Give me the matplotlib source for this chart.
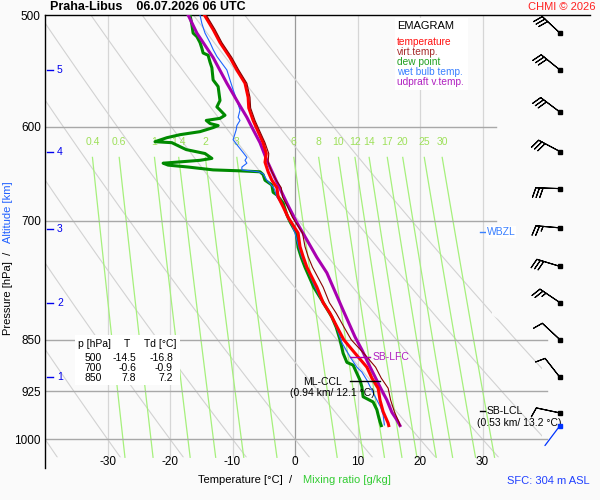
import numpy as np
import matplotlib
matplotlib.use('Agg')
import matplotlib.pyplot as plt
import matplotlib.transforms as mtransforms
from matplotlib.patches import Rectangle, Polygon
from matplotlib.ticker import NullLocator

plt.rcParams['font.family'] = ['Liberation Sans', 'DejaVu Sans']

# ---------------- data ----------------
title = "Praha-Libus    06.07.2026 06 UTC"

p_temp = [500, 512, 523, 536, 547, 559, 572, 582, 594, 605, 616, 627, 636, 646, 655, 663, 673,
          684, 696, 705, 714, 730, 742, 755, 780, 800, 814, 832, 850, 871, 889, 905, 920, 938,
          956, 974, 978]
temp = [-14.5, -13.1, -12.0, -10.4, -9.3, -8.0, -7.5, -7.4, -6.7, -5.9, -5.1, -4.6, -4.8, -4.3,
        -3.7, -2.9, -2.7, -1.9, -1.1, -0.3, 0.5, 0.8, 1.3, 1.9, 3.5, 4.5, 5.6, 6.7, 7.8, 9.8,
        11.5, 12.3, 13.3, 13.6, 14.1, 14.9, 15.0]
virt_temp = [-14.2, -12.8, -11.7, -10.1, -9.0, -7.7, -7.2, -7.1, -6.4, -5.6, -4.8, -4.2, -4.3,
             -3.7, -3.0, -2.2, -2.0, -1.2, -0.4, 0.4, 1.2, 1.6, 2.1, 2.8, 4.5, 5.5, 6.6, 7.8,
             9.0, 11.2, 12.9, 13.8, 14.9, 15.3, 15.9, 16.7, 16.8]

p_dew = [500, 508, 515, 518, 523, 528, 532, 534, 540, 545, 556, 562, 575, 581, 584, 589, 592,
         594, 597, 599, 601, 605, 608, 611, 615, 616, 620, 623, 627, 632, 634, 637, 639, 641,
         644, 645, 646, 649, 655, 660, 668, 671, 680, 693, 701, 714, 731, 743, 755, 780, 797,
         819, 833, 850, 869, 882, 886, 908, 918, 933, 941, 953, 961, 972, 978]
dew = [-16.8, -16.5, -16.3, -15.7, -15.2, -14.9, -14.7, -13.9, -13.6, -13.3, -13.1, -12.3,
       -12.0, -12.5, -12.0, -11.2, -12.0, -14.2, -13.6, -12.3, -13.1, -15.2, -18.4, -20.5,
       -22.4, -19.7, -18.4, -17.4, -14.4, -13.3, -15.2, -21.1, -20.3, -17.1, -13.1, -8.8,
       -5.6, -5.1, -4.8, -3.7, -3.5, -2.9, -1.9, -1.3, -0.8, 0.2, 0.5, 1.0, 1.6, 3.0, 4.3,
       5.9, 6.6, 7.2, 7.7, 8.3, 9.3, 10.4, 10.7, 10.9, 12.5, 13.1, 13.3, 13.6, 13.8]

p_wet = [500, 507, 515, 523, 529, 535, 541, 547, 556, 565, 575, 584, 591, 594, 599, 603, 613,
         618, 626, 631, 634, 637, 641, 644, 646, 648, 655, 663, 673, 684, 696, 705, 714, 731,
         743, 755, 780, 800, 819, 837, 854, 874, 889, 896, 908, 923, 938, 949, 961, 977]
wet = [-15.2, -14.9, -14.4, -13.6, -13.1, -12.5, -11.7, -10.9, -10.4, -9.9, -9.3, -8.8, -9.1,
       -8.8, -9.3, -9.4, -9.9, -9.3, -8.3, -7.7, -8.0, -7.7, -8.5, -8.5, -5.9, -5.1, -4.5,
       -3.4, -2.9, -1.9, -1.2, -0.5, 0.0, 0.6, 1.1, 1.8, 3.2, 4.4, 5.9, 6.8, 7.5, 8.8, 9.9,
       10.7, 11.5, 12.3, 13.1, 13.7, 14.1, 14.3]

p_parcel = [500, 515, 536, 559, 577, 591, 603, 616, 634, 657, 680, 702, 722, 743, 762, 810,
            846, 864, 883, 903, 918, 938, 957, 969, 978]
parcel = [-17.1, -15.7, -13.1, -10.9, -9.1, -7.7, -6.7, -5.6, -4.5, -2.9, -1.3, 0.3, 1.9,
          3.5, 5.1, 7.7, 9.6, 10.7, 11.7, 12.8, 13.6, 14.7, 15.5, 16.3, 16.8]

# wind barbs (every 0.5 km), direction in degrees, speed in kt
wind_p = [515, 547, 586, 625, 664, 708, 754, 800, 850, 904, 958]
wind_dir = [313, 309, 307, 298, 272, 275, 287, 304, 313, 322, 282]
wind_kt = [30, 30, 30, 30, 30, 25, 30, 25, 10, 10, 10]
sfc_p, sfc_dir = 978, 217

# altitude marks
alt_km = [1, 2, 3, 4, 5]
alt_p = [904, 800, 709, 625, 547]

p_ticks = [500, 600, 700, 850, 925, 1000]
t_ticks = [-30, -20, -10, 0, 10, 20, 30]
mix_ratios = [0.4, 0.6, 1, 1.4, 2, 3, 6, 8, 10, 12, 14, 17, 20, 25, 30]
mix_labels = ["0.4", "0.6", "1", "1.4", "2", "3", "6", "8", "10", "12", "14", "17", "20", "25", "30"]

tab_p = [500, 700, 850]
tab_T = [-14.5, -0.6, 7.8]
tab_Td = [-16.8, -0.9, 7.2]

lfc_p = 874
ccl_p, ccl_text = 910, "(0.94 km/ 12.1 °C)"
lcl_p, lcl_text = 955, "(0.53 km/ 13.2 °C)"
wbzl_p = 713

# ---------------- figure ----------------
W, H = 600, 500
BG = '#fafafa'
fig = plt.figure(figsize=(6, 5), dpi=100, facecolor=BG)

def fx(px):
    return px / W

def fy(py):
    return 1 - py / H

AX_L, AX_R, AX_T, AX_B = 45, 590, 15, 468
PX_PER_DEG = 6.25
PX_PER_LN = 612.0
ax = fig.add_axes([fx(AX_L), fy(AX_B), (AX_R - AX_L) / W, (AX_B - AX_T) / H])
ax.set_facecolor(BG)
T_MIN = -40.0
T_MAX = T_MIN + (AX_R - AX_L) / PX_PER_DEG
P_TOP = 500.0
P_BOT = P_TOP * np.exp((AX_B - AX_T) / PX_PER_LN)
ax.set_yscale('log')
ax.set_xlim(T_MIN, T_MAX)
ax.set_ylim(P_BOT, P_TOP)

def px2T(x):
    return (x - 295) / PX_PER_DEG

def py2p(y):
    return P_TOP * np.exp((y - AX_T) / PX_PER_LN)

for s in ['right', 'bottom']:
    ax.spines[s].set_visible(False)
for s in ['left', 'top']:
    ax.spines[s].set_color('black')
    ax.spines[s].set_linewidth(1.0)

ax.yaxis.set_minor_locator(NullLocator())
ax.set_yticks(p_ticks)
ax.set_yticklabels([str(p) for p in p_ticks])
ax.tick_params(axis='y', length=0, pad=3, labelsize=8.5)
ax.set_xticks([])

P_GRID_BOT = 1030

# clip region for background diagrams
clip_pts = [(T_MIN, P_TOP), (px2T(492), P_TOP), (px2T(492), py2p(315)), (px2T(500), py2p(320)),
            (px2T(542), py2p(360)), (px2T(542), P_GRID_BOT), (T_MIN, P_GRID_BOT)]
clip_poly = Polygon(clip_pts, closed=True, transform=ax.transData, facecolor='none', edgecolor='none')
ax.add_patch(clip_poly)

# isotherms
for t in t_ticks:
    ax.plot([t, t], [P_TOP, P_GRID_BOT], color='#999999' if t == 0 else '#d6d6d6', lw=0.9, zorder=1)

# dry adiabats
pp = np.linspace(P_TOP, P_GRID_BOT, 200)
for t1000 in range(-60, 60, 10):
    tt = (t1000 + 273.15) * (pp / 1000.0) ** 0.2857 - 273.15
    ln, = ax.plot(tt, pp, color='#d2d2d2', lw=0.8, zorder=1)
    ln.set_clip_path(clip_poly)

# mixing ratio lines
def td_from_w(w, p):
    e = w * p / (622.0 + w)
    a = np.log(e / 6.112)
    return 243.5 * a / (17.67 - a)

pm = np.linspace(631, P_GRID_BOT, 50)
for w, lab in zip(mix_ratios, mix_labels):
    ax.plot(td_from_w(w, pm), pm, color='#a6f07c', lw=0.9, zorder=1.5)
    ax.text(td_from_w(w, 631), 615, lab, color='#9ee05a', fontsize=7.5, ha='center', va='center', zorder=1.6)

# isobars
for p in p_ticks[1:]:
    t_end = px2T(496) if p < 800 else px2T(547)
    ax.plot([T_MIN, t_end], [p, p], color='#a8a8a8', lw=1.0, zorder=1.8)

# x tick labels
for t in t_ticks:
    ax.text(t, py2p(462), str(t), ha='center', va='center', fontsize=8.5, zorder=2)

# profiles
ax.plot(dew, p_dew, color='#008a00', lw=2.2, zorder=3)
ax.plot(wet, p_wet, color='#1e64ff', lw=0.8, zorder=3.2)
ax.plot(temp, p_temp, color='#ff0000', lw=2.2, zorder=3.4)
ax.plot(virt_temp, p_temp, color='#8b0000', lw=0.8, zorder=3.5)
ax.plot(parcel, p_parcel, color='#a800b0', lw=2.2, zorder=3.3)

# annotations in diagram
ax.plot([px2T(350), px2T(370)], [lfc_p, lfc_p], color='#a800b0', lw=1.0, zorder=4)
ax.text(px2T(373), lfc_p, "SB-LFC", color='#b020c0', fontsize=7.5, va='center', ha='left', zorder=4)
ax.plot([px2T(350), px2T(380)], [ccl_p, ccl_p], color='black', lw=1.0, zorder=4)
ax.text(px2T(323), py2p(382), "ML-CCL", fontsize=7.5, va='center', ha='center', zorder=4)
ax.text(px2T(332), py2p(393), ccl_text, fontsize=7.5, va='center', ha='center', zorder=4)
ax.plot([px2T(480), px2T(485)], [lcl_p, lcl_p], color='black', lw=1.0, zorder=4)
ax.text(px2T(487), lcl_p, "SB-LCL", fontsize=7.5, va='center', ha='left', zorder=4)
ax.text(px2T(519), py2p(423), lcl_text, fontsize=7.5, va='center', ha='center', zorder=4)
ax.plot([px2T(480), px2T(486)], [wbzl_p, wbzl_p], color='#3a80ff', lw=1.0, zorder=4)
ax.text(px2T(487), wbzl_p, "WBZL", color='#3a80ff', fontsize=7.5, va='center', ha='left', zorder=4,
        bbox=dict(facecolor='white', edgecolor='none', pad=0.5))

# altitude marks
tr_ay = mtransforms.blended_transform_factory(ax.transAxes, ax.transData)
for km, p in zip(alt_km, alt_p):
    ax.plot([2 / 545, 8 / 545], [p, p], color='#0000ee', lw=1.0, transform=tr_ay, clip_on=False, zorder=5)
    ax.text(12 / 545, p, str(km), color='#0000ee', fontsize=7.5, va='center', ha='left',
            transform=tr_ay, zorder=5)

# wind barbs
xb = (560 - AX_L) / (AX_R - AX_L)
d = np.deg2rad(np.array(wind_dir, dtype=float))
s = np.array(wind_kt, dtype=float)
u = -s * np.sin(d)
v = -s * np.cos(d)
ax.barbs(np.full(len(wind_p), xb), wind_p, u, v, transform=tr_ay, length=5.9, linewidth=0.8,
         color='black', clip_on=False, zorder=6, flip_barb=True,
         sizes=dict(spacing=0.15, height=0.4, width=0.25))
ax.plot(np.full(len(wind_p), xb), wind_p, 's', ms=2.3, color='black', transform=tr_ay, clip_on=False, zorder=6)
ds = np.deg2rad(sfc_dir)
ax.annotate('', xy=(xb, sfc_p), xycoords=tr_ay,
            xytext=(25 * np.sin(ds), 25 * np.cos(ds)), textcoords='offset pixels',
            arrowprops=dict(arrowstyle='-', color='#0033ff', lw=0.9, shrinkA=0, shrinkB=0),
            annotation_clip=False)
ax.plot([xb], [sfc_p], 's', ms=2.3, color='#0033ff', transform=tr_ay, clip_on=False, zorder=6)

# ---------------- figure-level texts ----------------
def ftext(px, py, s, **kw):
    return fig.text(fx(px), fy(py), s, **kw)

ftext(50, 7, title, fontsize=9, fontweight='bold', va='center', ha='left')
ftext(596, 7, "CHMI © 2026", fontsize=8, color='#ff2020', va='center', ha='right')

# legend box
fig.add_artist(Rectangle((fx(395), fy(90)), 73 / W, 72 / H, transform=fig.transFigure,
                         facecolor='white', edgecolor='none', zorder=2))
ftext(397, 26, "EMAGRAM", fontsize=8, va='center', ha='left', zorder=3)
leg = [("temperature", '#ff1010'), ("virt.temp.", '#a52a2a'), ("dew point", '#20a020'),
       ("wet bulb temp.", '#3a80ff'), ("udpraft v.temp.", '#b020c0')]
for i, (lab, c) in enumerate(leg):
    ftext(397, 42 + 10 * i, lab, fontsize=7.3, color=c, va='center', ha='left', zorder=3)

# table
fig.add_artist(Rectangle((fx(75), fy(385)), 105 / W, 50 / H, transform=fig.transFigure,
                         facecolor='white', edgecolor='none', zorder=2))
ftext(78, 344, "p [hPa]", fontsize=7.5, va='center', ha='left', zorder=3)
ftext(127, 344, "T", fontsize=7.5, va='center', ha='center', zorder=3)
ftext(144, 344, "Td [°C]", fontsize=7.5, va='center', ha='left', zorder=3)
for i, (p, t, td) in enumerate(zip(tab_p, tab_T, tab_Td)):
    yy = 358 + 10 * i
    ftext(102, yy, str(p), fontsize=7.5, va='center', ha='right', zorder=3)
    ftext(136, yy, f"{t:.1f}", fontsize=7.5, va='center', ha='right', zorder=3)
    ftext(173, yy, f"{td:.1f}", fontsize=7.5, va='center', ha='right', zorder=3)

# axis labels
ftext(8, 335, "Pressure [hPa]  /  ", fontsize=8, rotation=90, va='bottom', ha='center')
ftext(8, 243, "Altitude [km]", fontsize=8, rotation=90, va='bottom', ha='center', color='#2060ff')
ftext(198, 480, "Temperature [°C]  /  ", fontsize=8, va='center', ha='left')
ftext(303, 480, "Mixing ratio [g/kg]", fontsize=8, va='center', ha='left', color='#33cc33')
ftext(590, 481, "SFC: 304 m ASL", fontsize=8, va='center', ha='right', color='#2040ff')

fig.savefig('out.png', dpi=100, facecolor=BG)
